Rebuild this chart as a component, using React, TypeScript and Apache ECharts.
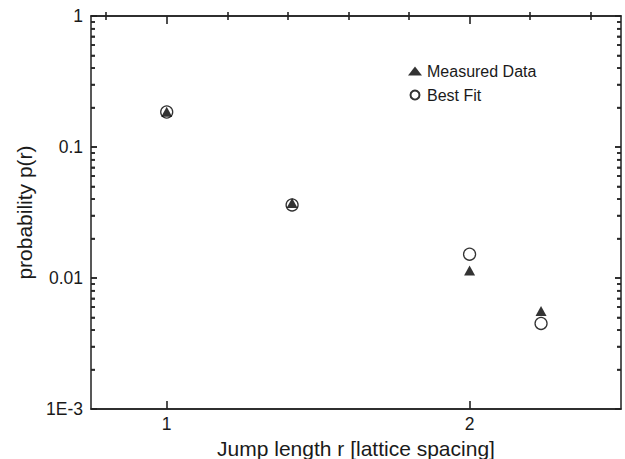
import React, { useEffect, useRef } from 'react';
import * as echarts from 'echarts';

const X_MIN = 0.75;
const X_MAX = 2.5;
const X_MAJOR = [1, 2];
const X_MINOR = [0.8, 1.2, 1.4, 1.6, 1.8, 2.2, 2.4];
const Y_MIN = 0.001;
const Y_MAX = 1;
const Y_TICK_VALUES = [0.001, 0.01, 0.1, 1];
const Y_TICK_LABELS = ['1E-3', '0.01', '0.1', '1'];
const Y_MINOR = [
  0.002, 0.003, 0.004, 0.005, 0.006, 0.007, 0.008, 0.009,
  0.02, 0.03, 0.04, 0.05, 0.06, 0.07, 0.08, 0.09,
  0.2, 0.3, 0.4, 0.5, 0.6, 0.7, 0.8, 0.9,
];
const JUMP_R = [1, 1.414, 2, 2.236];
const MEASURED = [0.186, 0.0374, 0.0114, 0.0056];
const BEST_FIT = [0.185, 0.0361, 0.0152, 0.0045];

const FONT = '"Liberation Sans", Arial, Helvetica, sans-serif';
const AXIS_COLOR = '#222';
const TEXT_COLOR = '#1a1a1a';

function yLabel(v: number): string {
  let best = 0;
  let bestD = Infinity;
  Y_TICK_VALUES.forEach((t, i) => {
    const d = Math.abs(Math.log10(v) - Math.log10(t));
    if (d < bestD) { bestD = d; best = i; }
  });
  return bestD < 0.01 ? Y_TICK_LABELS[best] : '';
}

function tickSeries(values: number[], x: number, len: number, dir: number) {
  return {
    type: 'scatter',
    name: 'yTick',
    xAxisIndex: 0,
    yAxisIndex: 0,
    silent: true,
    clip: false,
    symbol: 'rect',
    symbolSize: [len, 1.6],
    symbolOffset: [(dir * len) / 2, 0],
    itemStyle: { color: AXIS_COLOR },
    data: values.map((v) => [x, v]),
    z: 1,
  };
}

export default function App() {
  const ref = useRef<HTMLDivElement>(null);
  useEffect(() => {
    if (!ref.current) return;
    const chart = echarts.init(ref.current, null, { renderer: 'svg' });
    const tickLine = { color: AXIS_COLOR, width: 1.6 };
    const xBase = {
      type: 'value',
      min: X_MIN,
      max: X_MAX,
      splitLine: { show: false },
      axisLine: { show: false },
      axisLabel: { show: false },
    };
    const yLog = (pos: string) => ({
      type: 'log',
      logBase: 10,
      min: Y_MIN,
      max: Y_MAX,
      position: pos,
      splitLine: { show: false },
      axisLine: { show: false, onZero: false },
      axisTick: { show: true, inside: true, length: 6, lineStyle: { color: AXIS_COLOR, width: 1.6 } },
      axisLabel: { show: false },
    });
    const yMinor = (pos: string) => ({
      type: 'value',
      position: pos,
      min: Math.log10(Y_MIN),
      max: Math.log10(Y_MAX),
      splitLine: { show: false },
      axisLine: { show: false, onZero: false },
      axisLabel: { show: false },
      axisTick: {
        show: true,
        inside: true,
        length: 4,
        customValues: Y_MINOR.map((v) => Math.log10(v)),
        lineStyle: { color: AXIS_COLOR, width: 1.6 },
      },
    });
    chart.setOption({
      animation: false,
      backgroundColor: '#fff',
      grid: {
        left: 91, right: 4, top: 16, bottom: 50,
        containLabel: false, outerBoundsMode: 'none',
        show: true, borderColor: AXIS_COLOR, borderWidth: 1.5, backgroundColor: 'transparent',
      },
      legend: {
        data: ['Measured Data', 'Best Fit'],
        orient: 'vertical',
        left: 408,
        top: 63,
        padding: 0,
        itemWidth: 14,
        itemHeight: 9,
        itemGap: 8,
        textStyle: { fontSize: 16, color: TEXT_COLOR, fontFamily: FONT },
      },
      xAxis: [
        {
          ...xBase,
          position: 'bottom',
          axisLine: { show: true, onZero: false, lineStyle: { color: AXIS_COLOR, width: 1.5 } },
          axisTick: { show: true, inside: true, length: 8, customValues: X_MAJOR, lineStyle: tickLine },
          axisLabel: { show: true, customValues: X_MAJOR, fontSize: 17.5, color: TEXT_COLOR, margin: 6, fontFamily: FONT },
          name: 'Jump length r [lattice spacing]',
          nameLocation: 'middle',
          nameGap: 19,
          nameTextStyle: { fontSize: 21, color: TEXT_COLOR, fontFamily: FONT },
        },
        {
          ...xBase,
          position: 'bottom',
          axisTick: { show: true, inside: true, length: 4, customValues: X_MINOR, lineStyle: tickLine },
        },
        {
          ...xBase,
          position: 'top',
          axisLine: { show: true, onZero: false, lineStyle: { color: AXIS_COLOR, width: 1.5 } },
          axisTick: { show: true, inside: true, length: 8, customValues: X_MAJOR, lineStyle: tickLine },
        },
        {
          ...xBase,
          position: 'top',
          axisTick: { show: true, inside: true, length: 4, customValues: X_MINOR, lineStyle: tickLine },
        },
      ],
      yAxis: [
        {
          ...yLog('left'),
          axisLabel: { show: true, fontSize: 17.5, color: TEXT_COLOR, margin: 8, fontFamily: FONT, formatter: (v: number) => yLabel(v) },
          name: 'probability p(r)',
          nameLocation: 'middle',
          nameGap: 53,
          nameTextStyle: { fontSize: 21, color: TEXT_COLOR, fontFamily: FONT },
        },
        yLog('right'),
        yMinor('left'),
        yMinor('right'),
      ],
      series: [
        tickSeries(Y_TICK_VALUES, X_MIN, 6, 1),
        tickSeries(Y_TICK_VALUES, X_MAX, 6, -1),
        tickSeries(Y_MINOR, X_MIN, 4, 1),
        tickSeries(Y_MINOR, X_MAX, 4, -1),
        {
          type: 'scatter',
          name: 'Best Fit',
          xAxisIndex: 0,
          yAxisIndex: 0,
          symbol: 'circle',
          symbolSize: 12,
          itemStyle: { color: 'rgba(255,255,255,0)', borderColor: '#000', borderWidth: 1.3 },
          data: JUMP_R.map((x, i) => [x, BEST_FIT[i]]),
          z: 2,
        },
        {
          type: 'scatter',
          name: 'Measured Data',
          xAxisIndex: 0,
          yAxisIndex: 0,
          symbol: 'triangle',
          symbolSize: [11, 10],
          itemStyle: { color: '#000' },
          data: JUMP_R.map((x, i) => [x, MEASURED[i]]),
          z: 3,
        },
      ],
    });
    return () => chart.dispose();
  }, []);
  return (
    <div
      ref={ref}
      style={{ position: 'fixed', left: 0, top: 0, width: 625, height: 459, background: '#fff' }}
    />
  );
}
